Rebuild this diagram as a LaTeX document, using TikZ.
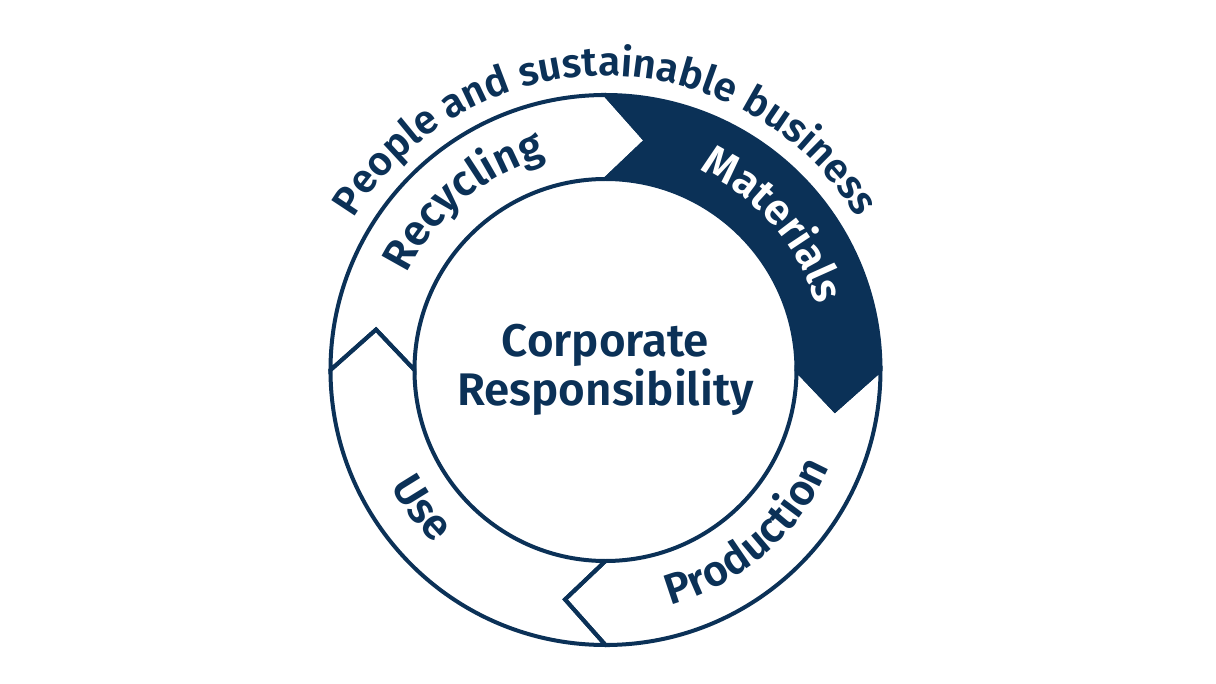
\documentclass[tikz,border=0pt]{standalone}
\usepackage{fontspec}
\setmainfont{Fira Sans}[UprightFont=* SemiBold, BoldFont=* Bold]
\usetikzlibrary{decorations.text}
\definecolor{navy}{HTML}{0B3157}

\begin{document}
\begin{tikzpicture}[
  seg/.style={draw=navy,line width=0.08cm},
  arctext/.style={decorate,decoration={text along path,text align=center,text={#1}}}
]
  \useasboundingbox (-12.11,-6.28) rectangle (12.21,7.4);

  \fill[navy] (90:5.5) arc[start angle=90, end angle=0, radius=5.5] -- (-10:4.66)
    -- (0:3.82) arc[start angle=0, end angle=90, radius=3.82] -- (80:4.66) -- cycle;

  \foreach \a in {90,0,-90,180} {
    \draw[seg] (\a:5.5) arc[start angle=\a, end angle=\a-90, radius=5.5] -- (\a-100:4.66)
      -- (\a-90:3.82) arc[start angle=\a-90, end angle=\a, radius=3.82] -- (\a-10:4.66) -- cycle;
  }

  \node[text=navy,align=center,font=\fontsize{26}{26}\selectfont] (centre) at (0,0) {Corporate\\Responsibility};

  \path[arctext={|\color{navy}\fontsize{23}{26}\selectfont|People and sustainable business}]
    (170:5.88) arc[start angle=170, end angle=10, radius=5.88];

  \path[arctext={|\color{navy}\fontsize{24.5}{26}\selectfont|Recycling}]
    (190:4.42) arc[start angle=190, end angle=70, radius=4.42];
  \path[arctext={|\color{white}\fontsize{24.5}{26}\selectfont|Materials}]
    (101:4.42) arc[start angle=101, end angle=-19, radius=4.42];
  \path[arctext={|\color{navy}\fontsize{24.5}{26}\selectfont|Production}]
    (-109:4.88) arc[start angle=-109, end angle=11, radius=4.88];
  \path[arctext={|\color{navy}\fontsize{24.5}{26}\selectfont|Use}]
    (-203:4.88) arc[start angle=-203, end angle=-83, radius=4.88];
\end{tikzpicture}
\end{document}
